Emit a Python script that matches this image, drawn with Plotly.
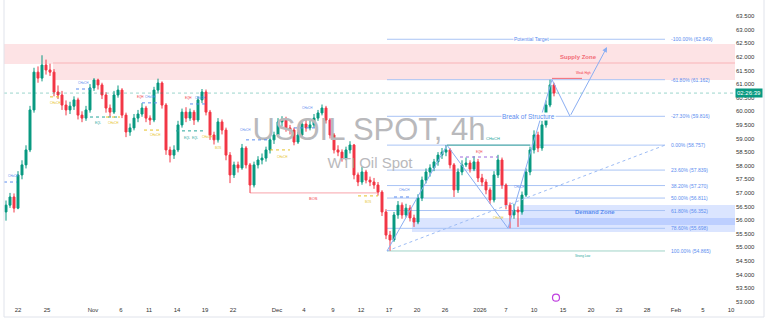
import plotly.graph_objects as go

# ---------------- data ----------------
opens = [56.30, 56.55, 56.85, 56.44, 57.66, 58.03, 58.58, 60.05, 61.44, 61.22,
         61.70, 61.52, 61.44, 60.71, 60.60, 60.23, 60.05, 60.19, 60.42, 59.86,
         59.75, 60.05, 60.86, 61.15, 60.97, 60.60, 60.12, 59.97, 60.60, 60.78,
         59.86, 59.24, 59.39, 59.75, 59.90, 60.12, 59.75, 59.68, 60.78, 61.04,
         60.23, 58.58, 58.39, 58.58, 59.50, 59.97, 59.75, 59.97, 59.68, 60.42,
         60.71, 59.97, 59.13, 58.95, 59.61, 59.31, 58.39, 57.66, 58.03, 57.92,
         58.65, 58.03, 57.29, 58.03, 58.21, 58.28, 58.58, 58.95, 59.13, 59.61,
         59.68, 59.39, 59.31, 58.87, 59.13, 59.53, 59.39, 59.50, 59.75, 59.94,
         60.12, 59.68, 59.13, 58.58, 58.50, 58.28, 58.58, 58.76, 57.66, 57.40,
         57.77, 57.47, 57.40, 57.29, 57.03, 56.30, 55.45, 55.27, 56.19, 56.55,
         56.19, 56.44, 56.08, 55.93, 56.81, 57.47, 57.77, 57.92, 58.14, 58.39,
         58.50, 58.58, 58.03, 57.11, 57.77, 58.03, 58.10, 57.88, 58.14, 57.55,
         57.40, 57.11, 56.74, 57.66, 58.21, 57.29, 56.55, 56.19, 56.37, 56.30,
         56.92, 57.77, 58.58, 59.13, 58.65, 59.50, 60.23, 60.97]
highs = [56.72, 57.00, 56.98, 57.80, 58.20, 58.75, 60.20, 61.60, 61.65, 62.06,
         61.90, 61.75, 61.55, 60.95, 60.75, 60.40, 60.35, 60.55, 60.50, 60.00,
         60.20, 61.00, 61.22, 61.20, 61.05, 60.70, 60.25, 60.75, 60.95, 60.85,
         59.95, 59.55, 59.90, 60.05, 60.30, 60.20, 59.85, 60.90, 61.20, 61.10,
         60.30, 58.70, 58.75, 59.65, 60.10, 60.15, 60.10, 60.05, 60.55, 60.82,
         60.80, 60.05, 59.25, 59.75, 59.70, 59.40, 58.50, 58.15, 58.15, 58.80,
         58.72, 58.10, 58.15, 58.35, 58.45, 58.70, 59.05, 59.25, 59.75, 59.82,
         59.80, 59.50, 59.40, 59.25, 59.65, 59.70, 59.65, 59.90, 60.05, 60.25,
         60.20, 59.75, 59.20, 58.75, 58.60, 58.70, 58.90, 58.80, 57.75, 57.95,
         57.85, 57.60, 57.55, 57.40, 57.10, 56.40, 55.60, 56.30, 56.70, 56.65,
         56.60, 56.55, 56.20, 56.95, 57.60, 57.90, 58.05, 58.25, 58.50, 58.65,
         58.76, 58.65, 58.10, 57.90, 58.20, 58.30, 58.20, 58.35, 58.25, 57.70,
         57.50, 57.20, 57.80, 58.40, 58.30, 57.35, 56.65, 56.60, 56.50, 57.05,
         57.90, 58.70, 59.30, 59.25, 59.65, 60.40, 61.16, 61.05]
lows = [55.98, 56.45, 56.28, 56.40, 57.50, 57.90, 58.50, 59.95, 61.05, 61.10,
        61.35, 61.30, 60.55, 60.45, 60.05, 59.85, 59.90, 60.05, 59.70, 59.60,
        59.65, 59.95, 60.75, 60.80, 60.45, 59.95, 59.80, 59.90, 60.50, 59.75,
        59.05, 59.10, 59.30, 59.60, 59.80, 59.60, 59.50, 59.60, 60.65, 60.10,
        58.40, 58.12, 58.25, 58.50, 59.40, 59.60, 59.65, 59.50, 59.60, 60.30,
        59.85, 58.95, 58.78, 58.85, 59.15, 58.20, 57.36, 57.55, 57.75, 57.85,
        57.90, 57.00, 57.20, 57.90, 58.05, 58.15, 58.45, 58.80, 59.05, 59.45,
        59.25, 59.15, 58.75, 58.80, 59.05, 59.25, 59.30, 59.40, 59.65, 59.85,
        59.55, 59.00, 58.45, 58.35, 58.15, 58.20, 58.45, 57.50, 57.25, 57.30,
        57.35, 57.25, 57.15, 56.90, 56.15, 55.30, 54.87, 55.20, 56.05, 56.05,
        56.10, 55.95, 55.75, 55.85, 56.70, 57.35, 57.60, 57.80, 58.00, 58.25,
        58.35, 57.90, 56.85, 57.00, 57.65, 57.95, 57.75, 57.80, 57.40, 57.25,
        56.95, 56.60, 56.65, 57.55, 57.15, 56.40, 55.70, 56.05, 55.75, 56.20,
        56.85, 57.65, 58.45, 58.50, 58.55, 59.40, 60.15, 60.55]
closes = [56.55, 56.85, 56.44, 57.66, 58.03, 58.58, 60.05, 61.44, 61.22, 61.70,
          61.52, 61.44, 60.71, 60.60, 60.23, 60.05, 60.19, 60.42, 59.86, 59.75,
          60.05, 60.86, 61.15, 60.97, 60.60, 60.12, 59.97, 60.60, 60.78, 59.86,
          59.24, 59.39, 59.75, 59.90, 60.12, 59.75, 59.68, 60.78, 61.04, 60.23,
          58.58, 58.39, 58.58, 59.50, 59.97, 59.75, 59.97, 59.68, 60.42, 60.71,
          59.97, 59.13, 58.95, 59.61, 59.31, 58.39, 57.66, 58.03, 57.92, 58.65,
          58.03, 57.29, 58.03, 58.21, 58.28, 58.58, 58.95, 59.13, 59.61, 59.68,
          59.39, 59.31, 58.87, 59.13, 59.53, 59.39, 59.50, 59.75, 59.94, 60.12,
          59.68, 59.13, 58.58, 58.50, 58.28, 58.58, 58.76, 57.66, 57.40, 57.77,
          57.47, 57.40, 57.29, 57.03, 56.30, 55.45, 55.27, 56.19, 56.55, 56.19,
          56.44, 56.08, 55.93, 56.81, 57.47, 57.77, 57.92, 58.14, 58.39, 58.50,
          58.58, 58.03, 57.11, 57.77, 58.03, 58.10, 57.88, 58.14, 57.55, 57.40,
          57.11, 56.74, 57.66, 58.21, 57.29, 56.55, 56.19, 56.37, 56.30, 56.92,
          57.77, 58.58, 59.13, 58.65, 59.50, 60.23, 60.97, 60.67]
bar_index = list(range(len(closes)))

tick_pos = [3, 10.25, 21.75, 28.75, 35.75, 42.75, 49.75, 56.75, 67.75, 74.5,
            81.75, 88.75, 95.75, 102.75, 109.75, 118.5, 125, 132, 139.25,
            146.25, 153.25, 160.25, 167.5, 174.25, 181.25]
tick_labels = ["22", "25", "Nov", "6", "11", "14", "19", "22", "Dec", "4",
               "9", "12", "17", "20", "26", "2026", "7", "10", "15",
               "20", "23", "28", "Feb", "5", "10"]

fib_levels = ["-100.00%", "-61.80%", "-27.30%", "0.00%", "23.60%",
              "38.20%", "50.00%", "61.80%", "78.60%", "100.00%"]
fib_prices = [62.649, 61.162, 59.816, 58.757, 57.839, 57.270, 56.811,
              56.352, 55.698, 54.865]
fib_start, fib_end = 95.25, 164.75

zigzag_x = [95.25, 110.25, 125.5, 136.5]
zigzag_y = [54.865, 58.757, 55.70, 61.162]
projection_x = [136.5, 141.0]
projection_y = [61.162, 59.816]
target_x, target_y = 150.25, 62.36

trend_x = [95.25, 164.75]
trend_y = [54.865, 58.757]

supply_zones = [(-0.5, 61.74, 62.47), (11.75, 61.15, 61.81)]   # (x start, low, high)
demand_zones = [(101.5, 55.563, 56.077), (128.5, 55.82, 56.555)]

last_price = 60.67
countdown = "02:26:39"

smc_labels = [
    ("CHoCH", 1.75, 57.62, "#5b8def"), ("CHoCH", 12.25, 60.30, "#e6c229"),
    ("CHoCH", 19.25, 61.04, "#5b8def"), ("EQL", 23.0, 59.57, "#26a69a"),
    ("CHoCH", 26.75, 59.57, "#e6c229"), ("EQH", 33.5, 60.53, "#f23645"),
    ("CHoCH", 36.0, 60.53, "#5b8def"), ("CHoCH", 37.25, 59.13, "#e6c229"),
    ("EQH", 45.5, 60.49, "#f23645"), ("CHoCH", 48.5, 60.49, "#5b8def"),
    ("EQL", 45.25, 59.02, "#26a69a"), ("EQL", 47.25, 59.02, "#26a69a"),
    ("CHoCH", 50.25, 59.06, "#e6c229"), ("BOS", 53.0, 58.65, "#e6c229"),
    ("CHoCH", 59.75, 59.30, "#5b8def"), ("CHoCH", 69.0, 58.32, "#e6c229"),
    ("CHoCH", 75.25, 60.12, "#5b8def"), ("BOS", 90.5, 56.67, "#e6c229"),
    ("CHoCH", 99.5, 57.11, "#5b8def"), ("EQH", 118.25, 58.50, "#f23645"),
    ("CHoCH", 128.25, 57.22, "#5b8def"), ("CHoCH", 123.0, 56.06, "#e6c229"),
]
smc_lines = [
    (-0.5, 2.75, 57.40, "#5b8def"), (11.0, 14.0, 60.53, "#e6c229"),
    (17.5, 21.5, 60.82, "#5b8def"), (21.0, 28.0, 59.79, "#26a69a"),
    (25.0, 28.5, 59.79, "#e6c229"), (34.0, 38.5, 60.31, "#5b8def"),
    (34.5, 39.0, 59.31, "#e6c229"), (46.0, 50.0, 60.27, "#5b8def"),
    (42.5, 50.0, 59.28, "#26a69a"), (60.0, 66.0, 58.95, "#5b8def"),
    (66.0, 71.0, 58.58, "#e6c229"), (72.0, 78.0, 59.39, "#5b8def"),
    (88.0, 93.0, 56.89, "#e6c229"), (97.0, 101.0, 56.85, "#5b8def"),
    (113.5, 123.0, 58.32, "#9c6ade"),
]

# ---------------- figure ----------------
X0, X1 = -0.5, 182.25
Y0, Y1 = 52.879, 64.092
FIB_LINE = "#a9c4f5"
FIB_TEXT = "#5b8def"
ZZ = "#8aaef2"

fig = go.Figure()

# watermark (behind everything)
fig.add_trace(go.Scatter(x=[90.75], y=[59.24], mode="text", text=["USOIL SPOT, 4h"],
                         textfont=dict(size=31, color="#b9b9bc", family="Liberation Sans"),
                         hoverinfo="skip"))
fig.add_trace(go.Scatter(x=[91.0], y=[58.06], mode="text", text=["WTI Oil Spot"],
                         textfont=dict(size=15, color="#b9b9bc", family="Liberation Sans"),
                         hoverinfo="skip"))

shapes = []
# supply / demand zones
for xs, lo, hi in supply_zones:
    shapes.append(dict(type="rect", xref="x", yref="y", x0=xs, x1=X1, y0=lo, y1=hi,
                       fillcolor="rgba(242,54,69,0.14)", line=dict(width=0), layer="below"))
for xs, lo, hi in demand_zones:
    shapes.append(dict(type="rect", xref="x", yref="y", x0=xs, x1=X1, y0=lo, y1=hi,
                       fillcolor="rgba(41,98,255,0.17)", line=dict(width=0), layer="below"))

# fib lines
for lvl, p in zip(fib_levels, fib_prices):
    col = "#9fd3c7" if lvl == "100.00%" else FIB_LINE
    shapes.append(dict(type="line", xref="x", yref="y", x0=fib_start, x1=fib_end, y0=p, y1=p,
                       line=dict(color=col, width=1), layer="below"))

# current price line
shapes.append(dict(type="line", xref="x", yref="y", x0=X0, x1=X1, y0=last_price, y1=last_price,
                   line=dict(color="rgba(8,153,129,0.40)", width=1, dash="dot")))
# BOS red line
shapes.append(dict(type="line", xref="x", yref="y", x0=61, x1=92.75, y0=57.0, y1=57.0,
                   line=dict(color="rgba(242,54,69,0.45)", width=1)))
# CHoCH teal line
shapes.append(dict(type="line", xref="x", yref="y", x0=110.25, x1=131, y0=58.757, y1=58.757,
                   line=dict(color="#3fa898", width=1)))
# weak high red line
shapes.append(dict(type="line", xref="x", yref="y", x0=136.5, x1=144.0, y0=61.21, y1=61.21,
                   line=dict(color="#f26b77", width=1)))
# small SMC lines
for xa, xb, p, c in smc_lines:
    shapes.append(dict(type="line", xref="x", yref="y", x0=xa, x1=xb, y0=p, y1=p,
                       line=dict(color=c, width=1, dash="dot")))
# frame
fx = (764 - 4) / 731
fy = -12 / 305
for s in [dict(x0=0, x1=0, y0=fy, y1=1), dict(x0=fx, x1=fx, y0=fy, y1=1),
          dict(x0=0, x1=fx, y0=fy, y1=fy)]:
    shapes.append(dict(type="line", xref="paper", yref="paper", line=dict(color="#e0e3eb", width=1), **s))

# candles
fig.add_trace(go.Candlestick(
    x=bar_index, open=opens, high=highs, low=lows, close=closes,
    increasing=dict(line=dict(color="#089981", width=1), fillcolor="#089981"),
    decreasing=dict(line=dict(color="#f23645", width=1), fillcolor="#f23645"),
    whiskerwidth=0, hoverinfo="skip"))

# trend & zigzag
fig.add_trace(go.Scatter(x=trend_x, y=trend_y, mode="lines",
                         line=dict(color="#9dbcf5", width=1, dash="3px,3px"), hoverinfo="skip"))
fig.add_trace(go.Scatter(x=zigzag_x, y=zigzag_y, mode="lines",
                         line=dict(color=ZZ, width=1), hoverinfo="skip"))
fig.add_trace(go.Scatter(x=projection_x, y=projection_y, mode="lines",
                         line=dict(color=ZZ, width=1), hoverinfo="skip"))

# purple icon near the axis
fig.add_trace(go.Scatter(x=[137.5], y=[53.15], mode="markers",
                         marker=dict(symbol="circle-open", size=7, color="#c040e0", line=dict(width=1.2)),
                         hoverinfo="skip"))

ann = []
ann.append(dict(x=target_x, y=target_y, ax=projection_x[-1], ay=projection_y[-1],
                xref="x", yref="y", axref="x", ayref="y", text="", showarrow=True,
                arrowhead=2, arrowsize=1, arrowwidth=1, arrowcolor=ZZ))
for lvl, p in zip(fib_levels, fib_prices):
    ann.append(dict(x=fib_end + 1.0, y=p, xref="x", yref="y", xanchor="left", showarrow=False,
                    text=f"{lvl} ({p:.3f})", font=dict(size=5, color=FIB_TEXT, family="Liberation Sans")))
ann.append(dict(x=131.25, y=62.649, text="Potential Target", showarrow=False, bgcolor="white",
                font=dict(size=5, color=FIB_TEXT, family="Liberation Sans"), borderpad=0))
ann.append(dict(x=130.5, y=59.816, text="Break of Structure", showarrow=False, bgcolor="white",
                font=dict(size=6.5, color=FIB_TEXT, family="Liberation Sans"), borderpad=0))
ann.append(dict(x=121.75, y=59.0, text="CHoCH", showarrow=False,
                font=dict(size=4, color="#26a69a", family="Liberation Sans")))
ann.append(dict(x=76.75, y=56.81, text="BOS", showarrow=False,
                font=dict(size=4, color="#f23645", family="Liberation Sans")))
ann.append(dict(x=143.0, y=62.0, text="<b>Supply Zone</b>", showarrow=False,
                font=dict(size=6, color="#f26b77", family="Liberation Sans")))
ann.append(dict(x=147.25, y=56.28, text="<b>Demand Zone</b>", showarrow=False,
                font=dict(size=6, color="#5b8def", family="Liberation Sans")))
ann.append(dict(x=144.25, y=61.41, text="Weak High", showarrow=False,
                font=dict(size=3, color="#f23645", family="Liberation Sans")))
ann.append(dict(x=144.25, y=54.68, text="Strong Low", showarrow=False,
                font=dict(size=3, color="#26a69a", family="Liberation Sans")))
for t, xi, p, c in smc_labels:
    ann.append(dict(x=xi, y=p, text=t, showarrow=False,
                    font=dict(size=3, color=c, family="Liberation Sans")))
ann.append(dict(x=1.0, xref="paper", y=last_price, yref="y", xanchor="left", showarrow=False,
                text=countdown, bgcolor="#089981", borderpad=1,
                font=dict(size=6, color="white", family="Liberation Sans")))

fig.update_layout(
    width=768, height=321, margin=dict(l=4, r=33, t=0, b=16),
    paper_bgcolor="white", plot_bgcolor="white", showlegend=False,
    shapes=shapes, annotations=ann,
    xaxis=dict(range=[X0, X1], tickmode="array", tickvals=tick_pos, ticktext=tick_labels,
               showgrid=False, zeroline=False, showline=False, ticks="",
               rangeslider=dict(visible=False),
               tickfont=dict(size=6, color="#333333", family="Liberation Sans")),
    yaxis=dict(range=[Y0, Y1], side="right", tick0=53, dtick=0.5, tickformat=".3f",
               showgrid=False, zeroline=False, showline=False, ticks="",
               tickfont=dict(size=6, color="#333333", family="Liberation Sans")),
)

fig.write_html("out.html")
